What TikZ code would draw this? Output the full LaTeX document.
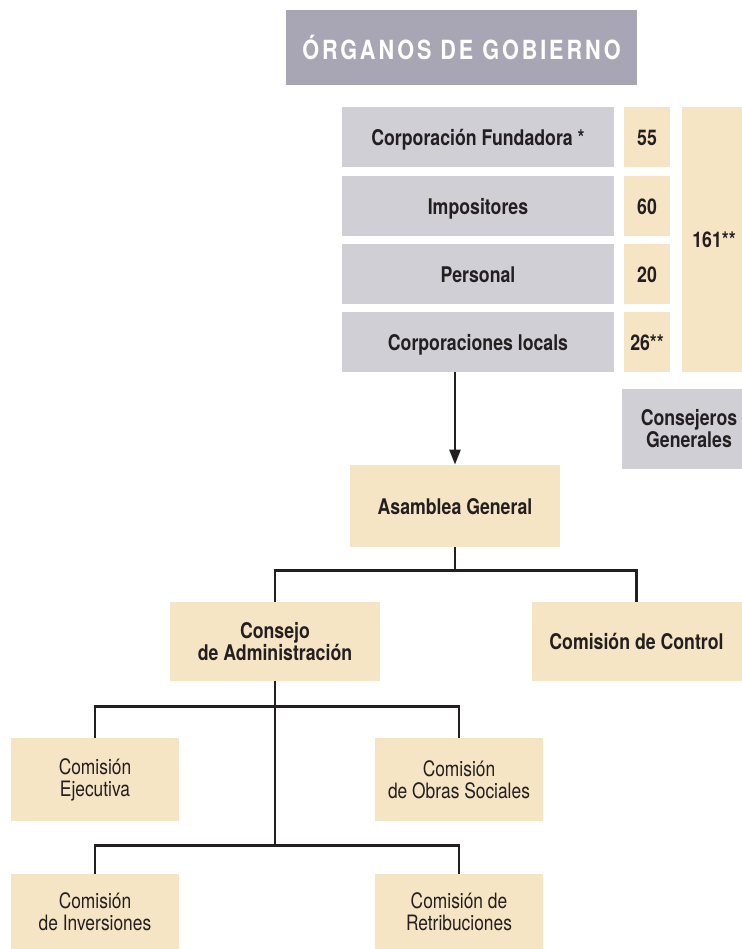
\documentclass[tikz,border=0pt]{standalone}
\usepackage{fontspec}
\setmainfont[FakeStretch=0.82]{TeX Gyre Heros}
\usetikzlibrary{arrows.meta,positioning}
\definecolor{grisosc}{HTML}{A8A6B4}
\definecolor{gris}{HTML}{D0CFD5}
\definecolor{crema}{HTML}{F5E5C5}
\definecolor{texto}{HTML}{231F20}

\begin{document}
\begin{tikzpicture}[x=0.5pt,y=-0.5pt,
  caja/.style={inner sep=0pt,align=center,text=texto,
    font=\fontsize{10.8}{11}\selectfont\bfseries},
  unalinea/.style={text height=8.4pt,text depth=0pt},
  grisbox/.style={caja,fill=gris,minimum width=136pt,minimum height=30pt},
  numbox/.style={caja,unalinea,fill=crema,minimum width=23pt,minimum height=30pt},
  cremabox/.style={caja,fill=crema,minimum width=105pt,minimum height=40pt},
  comibox/.style={caja,fill=crema,minimum width=84pt,
    font=\fontsize{10.6}{11}\selectfont},
  titulo/.style={inner sep=0pt,fill=grisosc,text=white,
    minimum width=175.5pt,minimum height=37.5pt,
    font=\fontsize{13.2}{15}\selectfont\bfseries\addfontfeature{LetterSpace=11}},
  linea/.style={line width=1.2pt,draw=texto},
  flecha/.style={linea,-{Triangle[width=5.5pt,length=7.5pt]}}]
\useasboundingbox (0,0) rectangle (742,949);

\node[titulo] (titulo) at (461.5,47.5) {ÓRGANOS DE GOBIERNO};

\node[grisbox,unalinea] (fundadora) at (478,137) {Corporación Fundadora *};
\node[grisbox,unalinea] (impositores) at (478,206) {Impositores};
\node[grisbox,unalinea] (personal) at (478,274) {Personal};
\node[grisbox,unalinea] (locales) at (478,342) {Corporaciones locals};

\node[numbox] (nfundadora) at (647,137) {55};
\node[numbox] (nimpositores) at (647,206) {60};
\node[numbox] (npersonal) at (647,274) {20};
\node[numbox] (nlocales) at (647,342) {26**};
\node[numbox,minimum width=32pt,minimum height=132.5pt] (total) at (714,239.5) {161**};

\node[grisbox,minimum width=67pt,minimum height=40pt] (consejeros) at (689,429) {Consejeros\\Generales};

\node[cremabox,unalinea,minimum height=41pt] (asamblea) at (455,506) {Asamblea General};
\node[cremabox,minimum height=39.5pt] (consejo) at (275,641.5) {Consejo\\de Administración};
\node[cremabox,unalinea,minimum height=39.5pt] (control) at (636.5,641.5) {Comisión de Control};

\node[comibox,minimum height=41.5pt] (ejecutiva) at (95,779.5) {Comisión\\Ejecutiva};
\node[comibox,minimum height=41.5pt] (obras) at (459,779.5) {Comisión\\de Obras Sociales};
\node[comibox,minimum height=37.5pt] (inversiones) at (95,911.5) {Comisión\\de Inversiones};
\node[comibox,minimum height=37.5pt] (retribuciones) at (459,911.5) {Comisión de\\Retribuciones};

\draw[flecha] (locales.south -| asamblea.north) -- (asamblea.north);

\draw[linea] (asamblea.south) -- ++(0,23) coordinate (ramaA);
\draw[linea] (consejo.north) |- (ramaA) -| (control.north);

\draw[linea] (consejo.south) -- ++(0,164) coordinate (troncoB);
\path (consejo.south) ++(0,25) coordinate (troncoA);
\draw[linea] (ejecutiva.north) |- (troncoA) -| (obras.north);
\draw[linea] (inversiones.north) |- (troncoB) -| (retribuciones.north);
\end{tikzpicture}
\end{document}
